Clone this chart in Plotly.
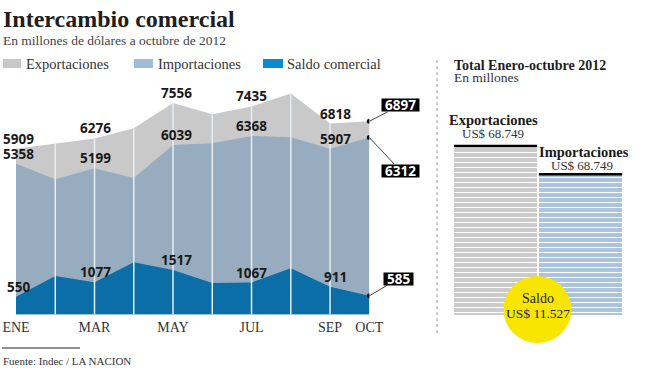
import plotly.graph_objects as go

# ---------------- data ----------------
months = ["ENE", "FEB", "MAR", "ABR", "MAY", "JUN", "JUL", "AGO", "SEP", "OCT"]
exportaciones = [5909, 6100, 6276, 6650, 7556, 7150, 7435, 7900, 6818, 6897]
importaciones = [5358, 4800, 5199, 4850, 6039, 6100, 6368, 6320, 5907, 6312]
saldo = [550, 1300, 1077, 1800, 1517, 1050, 1067, 1580, 911, 585]
tick_labels = ["ENE", "MAR", "MAY", "JUL", "SEP", "OCT"]
labeled_months = ["ENE", "MAR", "MAY", "JUL", "SEP"]

total_cats = ["Exportaciones", "Importaciones"]
total_values = [68749, 57222]
total_texts = ["US$ 68.749", "US$ 68.749"]
saldo_text = "US$ 11.527"

W, H = 645, 375
def px(x): return x / W
def py(y): return 1 - y / H

SERIF = "Liberation Serif"
SANS = "Open Sans"
C_EXP = "#c9c9c9"
C_IMP = "#97adbf"
C_SAL = "#0b6ea6"
Y_FLOOR = -90

fig = go.Figure()

def note(x, y, text, size, color, family=SERIF, xanchor="center"):
    fig.add_annotation(x=px(x), y=py(y), xref="paper", yref="paper", text=text,
                       xanchor=xanchor, yanchor="middle", showarrow=False,
                       font=dict(family=family, size=size, color=color))

# areas (closed polygons down to the axis floor)
for vals, col, name in [(exportaciones, C_EXP, "Exportaciones"),
                        (importaciones, C_IMP, "Importaciones"),
                        (saldo, C_SAL, "Saldo comercial")]:
    fig.add_trace(go.Scatter(
        x=months + months[::-1], y=vals + [Y_FLOOR] * len(months),
        fill="toself", fillcolor=col, mode="lines", line=dict(width=0),
        name=name, showlegend=False, hoverinfo="skip", xaxis="x", yaxis="y"))

# white month separators
for m, v in zip(months[1:-1], exportaciones[1:-1]):
    fig.add_shape(type="line", xref="x", yref="y", x0=m, x1=m, y0=Y_FLOOR, y1=v,
                  line=dict(color="#e6edf3", width=1.5), layer="above")

# OCT dots
last = months[-1]
fig.add_trace(go.Scatter(x=[last] * 3, y=[exportaciones[-1], importaciones[-1], saldo[-1]],
                         mode="markers", marker=dict(color="#111", size=5),
                         showlegend=False, hoverinfo="skip", xaxis="x", yaxis="y"))

# value labels
xshifts = {"ENE": 2, "MAR": 1, "MAY": 3, "JUL": 0, "SEP": 5}
for series in (exportaciones, importaciones, saldo):
    for m in labeled_months:
        i = months.index(m)
        fig.add_annotation(x=m, y=series[i], xref="x", yref="y", text=str(series[i]),
                           showarrow=False, yshift=10, xshift=xshifts[m],
                           xanchor="center", yanchor="middle",
                           font=dict(family=SANS, size=13.5, color="#1a1a1a", weight=700))

# boxed OCT labels: black box + leader, then the white number on top
for val, ax, ay in [(exportaciones[-1], 31, -16), (importaciones[-1], 31, 33), (saldo[-1], 29, -17)]:
    txt = str(val)
    fig.add_annotation(x=last, y=val, xref="x", yref="y", text=" ",
                       showarrow=True, arrowhead=0, arrowwidth=1, arrowcolor="#444",
                       ax=ax, ay=ay, bgcolor="#000", borderpad=0,
                       width=8 * len(txt) + 5, height=12)
    fig.add_annotation(x=last, y=val, xref="x", yref="y", text=txt, showarrow=False,
                       xshift=ax, yshift=-ay, xanchor="center", yanchor="middle",
                       font=dict(family=SANS, size=13.5, color="#fff", weight=700))

# ---- right panel bars ----
for c, v, col in zip(total_cats, total_values, ["#cacaca", "#a9c4dc"]):
    fig.add_trace(go.Bar(
        x=[c], y=[v], xaxis="x2", yaxis="y2", width=0.98,
        marker=dict(color=col, line=dict(width=0),
                    pattern=dict(shape="-", fillmode="replace", bgcolor=col,
                                 fgcolor="#ffffff", fgopacity=1, size=5, solidity=0.22)),
        showlegend=False, hoverinfo="skip"))
# black top lines
for i, (c, v) in enumerate(zip(total_cats, total_values)):
    fig.add_shape(type="line", xref="x2", yref="y2", x0=i - 0.49, x1=i + 0.49, y0=v, y1=v,
                  line=dict(color="#000", width=2.5))

# bar labels
for c, v, t, (dx1, s1, dx2, s2) in zip(total_cats, total_values, total_texts,
                                      [(-2, 26, -3, 13), (3, 22, 1, 9)]):
    fig.add_annotation(x=c, y=v, xref="x2", yref="y2", text="<b>" + c + "</b>",
                       showarrow=False, yshift=s1, xshift=dx1,
                       xanchor="center", yanchor="middle",
                       font=dict(family=SERIF, size=14.5, color="#1a1a1a"))
    fig.add_annotation(x=c, y=v, xref="x2", yref="y2", text=t,
                       showarrow=False, yshift=s2, xshift=dx2,
                       xanchor="center", yanchor="middle",
                       font=dict(family=SERIF, size=13, color="#333"))

# yellow saldo circle
fig.add_shape(type="circle", xref="paper", yref="paper",
              x0=px(503.5), x1=px(571.5), y0=py(343), y1=py(276),
              fillcolor="#f9e600", line=dict(width=0), layer="above")
note(537.5, 298, "Saldo", 14, "#222")
note(537.5, 313, saldo_text, 13.5, "#222")

# ---- titles / legend / footer ----
note(1, 19, "<b>Intercambio comercial</b>", 24, "#1e1e1e", xanchor="left")
note(1, 40, "En millones de dólares a octubre de 2012", 13.5, "#444", xanchor="left")
for (x0, x1, col, tx, name) in [(3, 21, "#c8c8c8", 24, "Exportaciones"),
                                (134, 153, "#9fbcd8", 156, "Importaciones"),
                                (263, 283, "#0b8ad2", 285, "Saldo comercial")]:
    fig.add_shape(type="rect", xref="paper", yref="paper", x0=px(x0), x1=px(x1),
                  y0=py(68), y1=py(59), fillcolor=col, line=dict(width=0))
    note(tx, 64, name, 14.5, "#333", xanchor="left")

note(452, 65, "<b>Total Enero-octubre 2012</b>", 14, "#1e1e1e", xanchor="left")
note(452, 77, "En millones", 13.5, "#333", xanchor="left")

fig.add_shape(type="line", xref="paper", yref="paper", x0=px(437), x1=px(437),
              y0=py(333), y1=py(60), line=dict(color="#999", width=1, dash="dot"))
fig.add_shape(type="line", xref="paper", yref="paper", x0=px(2), x1=px(80),
              y0=py(348), y1=py(348), line=dict(color="#222", width=1))
note(1, 361, "Fuente: Indec / LA NACION", 11, "#333", xanchor="left")

fig.update_layout(
    template="none",
    width=W, height=H, margin=dict(l=0, r=0, t=0, b=0, pad=0, autoexpand=False),
    paper_bgcolor="#fff", plot_bgcolor="rgba(0,0,0,0)", bargap=0, barmode="overlay",
    showlegend=False,
    xaxis=dict(domain=[px(16), px(369.3)], type="category", categoryorder="array",
               categoryarray=months, range=[0, 9], tickvals=tick_labels,
               ticktext=tick_labels, showgrid=False, zeroline=False, showline=False,
               ticks="", ticklabelstandoff=2, automargin=False,
               tickfont=dict(family=SERIF, size=14, color="#333")),
    yaxis=dict(domain=[py(314.5), py(90)], range=[Y_FLOOR, 8030], visible=False,
               automargin=False),
    xaxis2=dict(domain=[px(453), px(623)], anchor="y2", range=[-0.5, 1.5],
                type="category", categoryorder="array", categoryarray=total_cats,
                visible=False, automargin=False),
    yaxis2=dict(domain=[py(315), py(90)], anchor="x2", range=[0, 91530], visible=False,
                automargin=False),
)

fig.write_html("out.html", config={"displayModeBar": False, "staticPlot": True},
               post_script="document.body.style.margin='0';document.body.style.padding='0';")
